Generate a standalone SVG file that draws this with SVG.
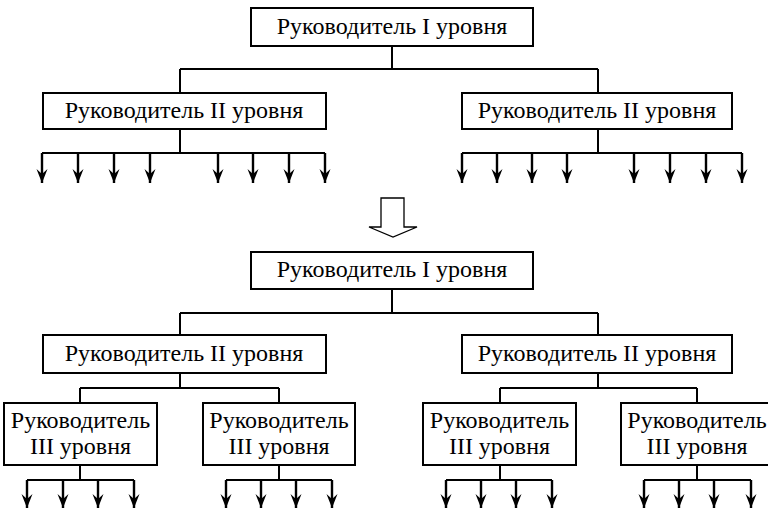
<svg xmlns="http://www.w3.org/2000/svg" width="768" height="510" viewBox="0 0 768 510">
<defs>
<marker id="ah" markerUnits="userSpaceOnUse" markerWidth="16" markerHeight="14" viewBox="-15 -7 16 14" refX="0" refY="0" orient="auto">
<path d="M0,0 L-14,-5.5 L-9,0 L-14,5.5 Z" fill="#000"/>
</marker>
</defs>
<style>
.box{fill:#fff;stroke:#000;stroke-width:2}
text{font-family:'Liberation Serif','DejaVu Serif',serif;font-size:24px;fill:#000;text-anchor:middle}
.ln{fill:none;stroke:#000;stroke-width:2}
.ar{fill:none;stroke:#000;stroke-width:2.4;marker-end:url(#ah)}
</style>
<rect width="768" height="510" fill="#fff"/>
<g id="connectors">
<path class="ln" d="M392,46 V69 M180,69 H598 M180,69 V93 M598,69 V93"/>
<path class="ln" d="M180,129 V153 M42,153 H325 M598,129 V153 M462,153 H742"/>
<g class="ar">
<path d="M42,153 V183"/><path d="M78,153 V183"/><path d="M114,153 V183"/><path d="M150,153 V183"/>
<path d="M218,153 V183"/><path d="M253,153 V183"/><path d="M289,153 V183"/><path d="M325,153 V183"/>
<path d="M462,153 V183"/><path d="M497,153 V183"/><path d="M532,153 V183"/><path d="M567,153 V183"/>
<path d="M634,153 V183"/><path d="M670,153 V183"/><path d="M706,153 V183"/><path d="M742,153 V183"/>
</g>
<path class="ln" d="M392,289 V313 M180,313 H598 M180,313 V335 M598,313 V335"/>
<path class="ln" d="M180,373 V388 M80,388 H279 M80,388 V403 M279,388 V403"/>
<path class="ln" d="M598,373 V388 M500,388 H697 M500,388 V403 M697,388 V403"/>
<path class="ln" d="M80,465 V480 M27,480 H134 M279,465 V480 M226,480 H332 M500,465 V480 M446,480 H552 M697,465 V480 M644,480 H751"/>
<g class="ar">
<path d="M27,480 V508"/><path d="M63,480 V508"/><path d="M98,480 V508"/><path d="M134,480 V508"/>
<path d="M226,480 V508"/><path d="M261,480 V508"/><path d="M296,480 V508"/><path d="M332,480 V508"/>
<path d="M446,480 V508"/><path d="M481,480 V508"/><path d="M516,480 V508"/><path d="M552,480 V508"/>
<path d="M644,480 V508"/><path d="M679,480 V508"/><path d="M714,480 V508"/><path d="M751,480 V508"/>
</g>
<path id="transition" d="M381,198 H404 V227 H417 L393,237 L369,227 H381 Z" fill="#fff" stroke="#000" stroke-width="1.3"/>
</g>
<g id="top-l1"><rect class="box" x="251" y="8" width="282" height="38"/><text x="392" y="34">Руководитель I уровня</text></g>
<g id="top-l2-left"><rect class="box" x="43" y="93" width="283" height="36"/><text x="184" y="118">Руководитель II уровня</text></g>
<g id="top-l2-right"><rect class="box" x="462" y="93" width="270" height="36"/><text x="597" y="118">Руководитель II уровня</text></g>
<g id="bot-l1"><rect class="box" x="251" y="252" width="282" height="37"/><text x="392" y="277">Руководитель I уровня</text></g>
<g id="bot-l2-left"><rect class="box" x="43" y="335" width="283" height="38"/><text x="184" y="361">Руководитель II уровня</text></g>
<g id="bot-l2-right"><rect class="box" x="462" y="335" width="270" height="38"/><text x="597" y="361">Руководитель II уровня</text></g>
<g id="l3-1"><rect class="box" x="4" y="403" width="153" height="62"/><text x="80.5" y="428">Руководитель</text><text x="80.5" y="454">III уровня</text></g>
<g id="l3-2"><rect class="box" x="203" y="403" width="152" height="62"/><text x="279" y="428">Руководитель</text><text x="279" y="454">III уровня</text></g>
<g id="l3-3"><rect class="box" x="423" y="403" width="153" height="62"/><text x="499.5" y="428">Руководитель</text><text x="499.5" y="454">III уровня</text></g>
<g id="l3-4"><rect class="box" x="621" y="403" width="153" height="62"/><text x="697" y="428">Руководитель</text><text x="697" y="454">III уровня</text></g>
</svg>
